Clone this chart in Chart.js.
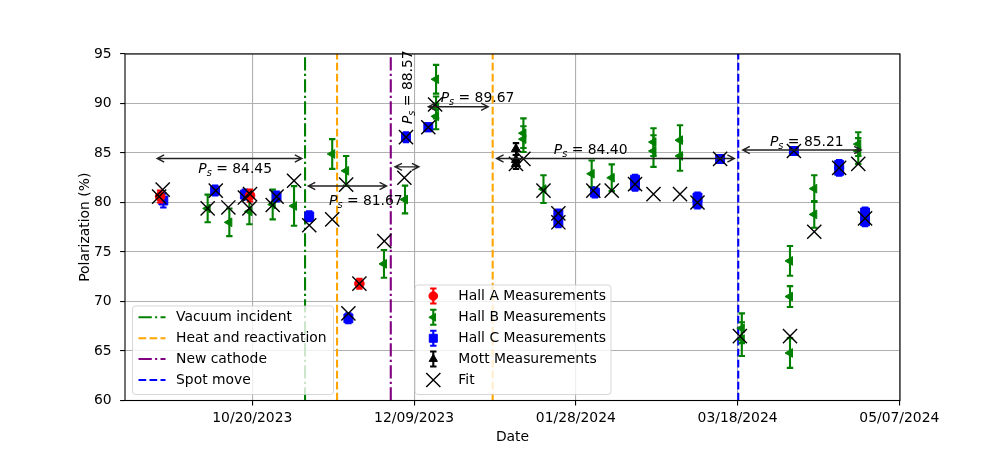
<!DOCTYPE html>
<html>
<head>
<meta charset="utf-8">
<script src="https://cdn.jsdelivr.net/npm/chart.js@4.4.0/dist/chart.umd.min.js"></script>
<style>
  html, body { margin: 0; padding: 0; background: #fff; }
  canvas { display: block; }
</style>
</head>
<body>
<canvas id="polChart" width="1000" height="450"></canvas>
<script>
// x values are days counted from 10/20/2023
const dayZero = Date.UTC(2023, 9, 20);
const xTickDays = [0, 50, 100, 150, 200];
const yTicks = [60, 65, 70, 75, 80, 85, 90, 95];

const hallADays = [-28.5, -0.7, 33.1];
const hallAPol = [80.6, 80.7, 71.8];
const hallAErr = [0.6, 0.6, 0.5];

const hallBDays = [-13.8, -7.1, -0.9, 6.3, 12.9, 24.7, 29.0, 40.7, 47.2, 56.8, 56.8, 56.8,
  83.8, 83.8, 90.0, 104.9, 111.1, 124.0, 124.0, 132.2, 132.2, 151.3, 151.3,
  166.2, 166.2, 166.2, 173.7, 173.7, 187.3, 187.3];
const hallBPol = [79.4, 78.0, 79.1, 79.8, 79.65, 84.9, 83.2, 73.8, 80.3, 92.45, 89.6, 88.7,
  87.0, 86.4, 81.35, 82.9, 82.5, 86.1, 85.2, 86.3, 84.7, 67.3, 66.2,
  74.1, 70.5, 64.8, 81.4, 78.8, 85.9, 85.2];
const hallBErr = [1.4, 1.4, 1.3, 1.5, 2.0, 1.5, 1.5, 1.4, 1.4, 1.45, 1.1, 1.3,
  1.5, 1.3, 1.4, 1.35, 1.35, 1.4, 1.6, 1.5, 1.5, 1.5, 1.7,
  1.5, 1.05, 1.5, 1.35, 1.35, 1.2, 1.3];

const hallCDays = [-27.5, -11.5, -2.3, 7.5, 17.6, 29.7, 47.5, 54.4, 94.6, 94.6, 105.9,
  118.3, 118.3, 137.6, 137.6, 144.6, 167.4, 181.4, 181.4, 189.4, 189.4];
const hallCPol = [80.2, 81.2, 80.8, 80.6, 78.6, 68.3, 86.6, 87.6, 78.8, 78.0, 81.0,
  82.3, 81.7, 80.5, 79.9, 84.4, 85.2, 83.8, 83.2, 79.0, 78.1];
const hallCErr = [0.7, 0.5, 0.5, 0.5, 0.5, 0.5, 0.5, 0.4, 0.5, 0.5, 0.5,
  0.5, 0.5, 0.5, 0.5, 0.4, 0.4, 0.5, 0.5, 0.5, 0.5];

const mottDays = [81.5, 81.5, 81.5];
const mottPol = [85.4, 84.3, 83.9];
const mottErr = [0.6, 0.5, 0.5];

const fitDays = [-27.7, -28.8, -13.8, -11.3, -7.4, -2.3, -0.9, -0.7, 6.3, 7.5, 12.9, 17.6,
  24.7, 29.0, 29.7, 33.1, 40.8, 47.0, 47.5, 54.4, 56.5, 81.5, 83.8, 90.0, 94.6, 94.6,
  105.4, 111.1, 118.3, 124.0, 132.2, 137.6, 144.6, 150.7, 166.2, 167.4, 173.7, 181.4, 187.3, 189.4];
const fitPol = [81.3, 80.6, 79.4, 81.2, 79.5, 80.5, 79.4, 80.85, 79.75, 80.6, 82.2, 77.7,
  78.3, 81.8, 68.8, 71.8, 76.1, 82.5, 86.6, 87.6, 89.9, 83.9, 84.4, 81.2, 78.9, 78.0,
  81.2, 81.2, 81.85, 80.85, 80.85, 80.0, 84.4, 66.5, 66.5, 85.2, 77.05, 83.5, 83.9, 78.4];

// event lines
const vacuumDays = [16.3];
const heatDays = [26.2, 74.3];
const cathodeDays = [42.8];
const spotDays = [150.2];

// P_s periods: arrow span, arrow height, label spot
const psValues = [84.45, 81.67, 88.57, 89.67, 84.40, 85.21];
const psFrom = [-29.4, 17.3, 44.1, 54.4, 75.5, 151.6];
const psTo = [15.3, 41.5, 51.5, 72.9, 149.0, 188.2];
const psArrowPol = [84.45, 81.67, 83.6, 89.67, 84.45, 85.3];
const psLabelDay = [-5.3, 35.1, 47.8, 69.6, 104.6, 171.4];
const psLabelPol = [83.52, 80.25, 91.65, 90.69, 85.37, 86.2];
const psLabelVertical = [false, false, true, false, false, false];

const FONT = '"DejaVu Sans", sans-serif';
const FS = 13.9;
Chart.defaults.font.family = FONT;
Chart.defaults.font.size = FS;
Chart.defaults.color = '#000';

const pts = (xs, ys) => xs.map((x, i) => ({ x: x, y: ys[i] }));

const fmtDay = d => {
  const t = new Date(dayZero + d * 864e5);
  return String(t.getUTCMonth() + 1).padStart(2, '0') + '/' +
    String(t.getUTCDate()).padStart(2, '0') + '/' + t.getUTCFullYear();
};

const dashDot = [13.3, 3.3, 2.1, 3.3];
const dashed = [7.7, 3.3];
const eventLines = [
  { label: 'Vacuum incident', days: vacuumDays, color: 'green', dash: dashDot },
  { label: 'Heat and reactivation', days: heatDays, color: 'orange', dash: dashed },
  { label: 'New cathode', days: cathodeDays, color: 'purple', dash: dashDot },
  { label: 'Spot move', days: spotDays, color: 'blue', dash: dashed }
];

const datasets = [];
eventLines.forEach(ev => {
  ev.days.forEach(d => {
    datasets.push({
      type: 'line', data: [{ x: d, y: 60 }, { x: d, y: 95 }],
      borderColor: ev.color, borderWidth: 2.1, borderDash: ev.dash,
      pointRadius: 0, fill: false, order: 10
    });
  });
});

// lower order = drawn on top
const series = [
  { label: 'Hall A Measurements', days: hallADays, pol: hallAPol, err: hallAErr,
    color: 'red', style: 'circle', radius: 4.8, rotation: 0, order: 2.5 },
  { label: 'Hall B Measurements', days: hallBDays, pol: hallBPol, err: hallBErr,
    color: 'green', style: 'triangle', radius: 5, rotation: -90, order: 4 },
  { label: 'Hall C Measurements', days: hallCDays, pol: hallCPol, err: hallCErr,
    color: 'blue', style: 'rect', radius: 6.3, rotation: 0, order: 3 },
  { label: 'Mott Measurements', days: mottDays, pol: mottPol, err: mottErr,
    color: 'black', style: 'triangle', radius: 5.3, rotation: 0, order: 2 }
];
series.forEach(s => {
  datasets.push({
    type: 'scatter', label: s.label, data: pts(s.days, s.pol), errors: s.err,
    pointStyle: s.style, pointRadius: s.radius, pointRotation: s.rotation,
    backgroundColor: s.color, borderColor: s.color, borderWidth: 1, order: s.order
  });
});
datasets.push({
  type: 'scatter', label: 'Fit', data: pts(fitDays, fitPol),
  pointStyle: 'crossRot', pointRadius: 10, borderColor: 'black', borderWidth: 1.4, order: 0
});

// error bars under each measurement set
const errorBars = {
  id: 'errorBars',
  beforeDatasetDraw(chart, args) {
    const ds = chart.data.datasets[args.index];
    if (!ds.errors) return;
    const ctx = chart.ctx, xs = chart.scales.x, ys = chart.scales.y;
    ctx.save();
    ctx.strokeStyle = ds.borderColor;
    ctx.lineWidth = 2.1;
    ds.data.forEach((p, i) => {
      const px = xs.getPixelForValue(p.x);
      const top = ys.getPixelForValue(p.y + ds.errors[i]);
      const bot = ys.getPixelForValue(p.y - ds.errors[i]);
      ctx.beginPath();
      ctx.moveTo(px, top); ctx.lineTo(px, bot);
      ctx.moveTo(px - 3.2, top); ctx.lineTo(px + 3.2, top);
      ctx.moveTo(px - 3.2, bot); ctx.lineTo(px + 3.2, bot);
      ctx.stroke();
    });
    ctx.restore();
  }
};

function drawPs(ctx, value, cx, cy, vertical) {
  const parts = [
    { t: 'P', font: 'italic ' + FS + 'px ' + FONT, dy: 0 },
    { t: 's', font: 'italic ' + (FS * 0.7) + 'px ' + FONT, dy: 3 },
    { t: ' = ' + value.toFixed(2), font: FS + 'px ' + FONT, dy: 0 }
  ];
  let w = 0;
  parts.forEach(p => { ctx.font = p.font; p.w = ctx.measureText(p.t).width; w += p.w; });
  ctx.save();
  ctx.translate(cx, cy);
  if (vertical) ctx.rotate(-Math.PI / 2);
  ctx.fillStyle = '#000';
  ctx.textBaseline = 'alphabetic';
  let x = -w / 2;
  parts.forEach(p => {
    ctx.font = p.font;
    ctx.fillText(p.t, x, 5 + p.dy);
    x += p.w;
  });
  ctx.restore();
}

function arrowHead(ctx, x, y, dir) {
  ctx.moveTo(x + dir * 7, y - 3.6);
  ctx.lineTo(x, y);
  ctx.lineTo(x + dir * 7, y + 3.6);
}

function legendBox(ctx, x0, y0, x1, y1) {
  ctx.save();
  ctx.beginPath();
  ctx.roundRect(x0, y0, x1 - x0, y1 - y0, 3);
  ctx.fillStyle = 'rgba(255,255,255,0.8)';
  ctx.fill();
  ctx.strokeStyle = 'rgba(204,204,204,0.8)';
  ctx.lineWidth = 1;
  ctx.stroke();
  ctx.restore();
}

const overlay = {
  id: 'overlay',
  afterDraw(chart) {
    const ctx = chart.ctx, xs = chart.scales.x, ys = chart.scales.y;
    const a = chart.chartArea;

    // P_s arrows and labels
    ctx.save();
    ctx.strokeStyle = '#222';
    ctx.lineWidth = 1.4;
    psValues.forEach((v, i) => {
      const x0 = xs.getPixelForValue(psFrom[i]);
      const x1 = xs.getPixelForValue(psTo[i]);
      const y = ys.getPixelForValue(psArrowPol[i]);
      ctx.beginPath();
      ctx.moveTo(x0, y); ctx.lineTo(x1, y);
      arrowHead(ctx, x0, y, 1);
      arrowHead(ctx, x1, y, -1);
      ctx.stroke();
      drawPs(ctx, v, xs.getPixelForValue(psLabelDay[i]), ys.getPixelForValue(psLabelPol[i]), psLabelVertical[i]);
    });
    ctx.restore();

    // frame
    ctx.save();
    ctx.strokeStyle = '#000';
    ctx.lineWidth = 1.1;
    ctx.strokeRect(a.left, a.top, a.right - a.left, a.bottom - a.top);
    ctx.restore();

    // axis titles
    ctx.save();
    ctx.fillStyle = '#000';
    ctx.font = FS + 'px ' + FONT;
    ctx.textAlign = 'center';
    ctx.textBaseline = 'middle';
    ctx.fillText('Date', (a.left + a.right) / 2, 437);
    ctx.translate(85, (a.top + a.bottom) / 2);
    ctx.rotate(-Math.PI / 2);
    ctx.fillText('Polarization (%)', 0, 0);
    ctx.restore();

    // event line legend
    const rowsY = [317.3, 338.3, 359, 380];
    legendBox(ctx, 132.5, 306, 333.5, 394.5);
    ctx.save();
    ctx.font = FS + 'px ' + FONT;
    ctx.textBaseline = 'middle';
    eventLines.forEach((ev, i) => {
      ctx.beginPath();
      ctx.setLineDash(ev.dash);
      ctx.strokeStyle = ev.color;
      ctx.lineWidth = 2.1;
      ctx.moveTo(138.5, rowsY[i]); ctx.lineTo(165.5, rowsY[i]);
      ctx.stroke();
      ctx.setLineDash([]);
      ctx.fillStyle = '#000';
      ctx.fillText(ev.label, 176, rowsY[i]);
    });
    ctx.restore();

    // measurement legend, in series order
    const mRows = [296, 317.3, 338.3, 359, 380];
    legendBox(ctx, 415, 285, 611, 394.5);
    ctx.save();
    ctx.font = FS + 'px ' + FONT;
    ctx.textBaseline = 'middle';
    const measured = chart.data.datasets.filter(d => d.type === 'scatter');
    measured.forEach((ds, i) => {
      const mx = 433.3, my = mRows[i];
      if (ds.errors) {
        ctx.beginPath();
        ctx.strokeStyle = ds.borderColor;
        ctx.lineWidth = 2.1;
        ctx.moveTo(mx, my - 7.5); ctx.lineTo(mx, my + 7.5);
        ctx.moveTo(mx - 3.2, my - 7.5); ctx.lineTo(mx + 3.2, my - 7.5);
        ctx.moveTo(mx - 3.2, my + 7.5); ctx.lineTo(mx + 3.2, my + 7.5);
        ctx.stroke();
      }
      ctx.fillStyle = ds.backgroundColor || ds.borderColor;
      ctx.strokeStyle = ds.borderColor;
      ctx.lineWidth = ds.borderWidth;
      Chart.helpers.drawPoint(ctx, {
        pointStyle: ds.pointStyle, radius: ds.pointStyle === 'crossRot' ? ds.pointRadius : ds.pointRadius * 0.9,
        rotation: ds.pointRotation || 0, borderWidth: ds.borderWidth
      }, mx, my);
      ctx.fillStyle = '#000';
      ctx.fillText(ds.label, 458.3, my);
    });
    ctx.restore();
  }
};

new Chart(document.getElementById('polChart'), {
  data: { datasets: datasets },
  options: {
    responsive: false,
    animation: false,
    events: [],
    layout: { padding: { left: 0, right: 100, top: 54, bottom: 0 } },
    plugins: { legend: { display: false }, tooltip: { enabled: false } },
    scales: {
      x: {
        type: 'linear', min: -39.35, max: 200.2,
        afterFit: s => { s.height = 49.5; },
        afterBuildTicks: s => { s.ticks = xTickDays.map(v => ({ value: v })); },
        ticks: { callback: v => fmtDay(v), padding: 4.9, maxRotation: 0, autoSkip: false, color: '#000' },
        grid: { color: '#b0b0b0', lineWidth: 1.1, tickColor: '#000', tickLength: 4.9, tickWidth: 1.1 },
        border: { display: false }
      },
      y: {
        type: 'linear', min: 60, max: 95,
        afterFit: s => { s.width = 125; },
        afterBuildTicks: s => { s.ticks = yTicks.map(v => ({ value: v })); },
        ticks: { padding: 8.5, color: '#000' },
        grid: { color: '#b0b0b0', lineWidth: 1.1, tickColor: '#000', tickLength: 4.9, tickWidth: 1.1 },
        border: { display: false }
      }
    }
  },
  plugins: [errorBars, overlay]
});
</script>
</body>
</html>
